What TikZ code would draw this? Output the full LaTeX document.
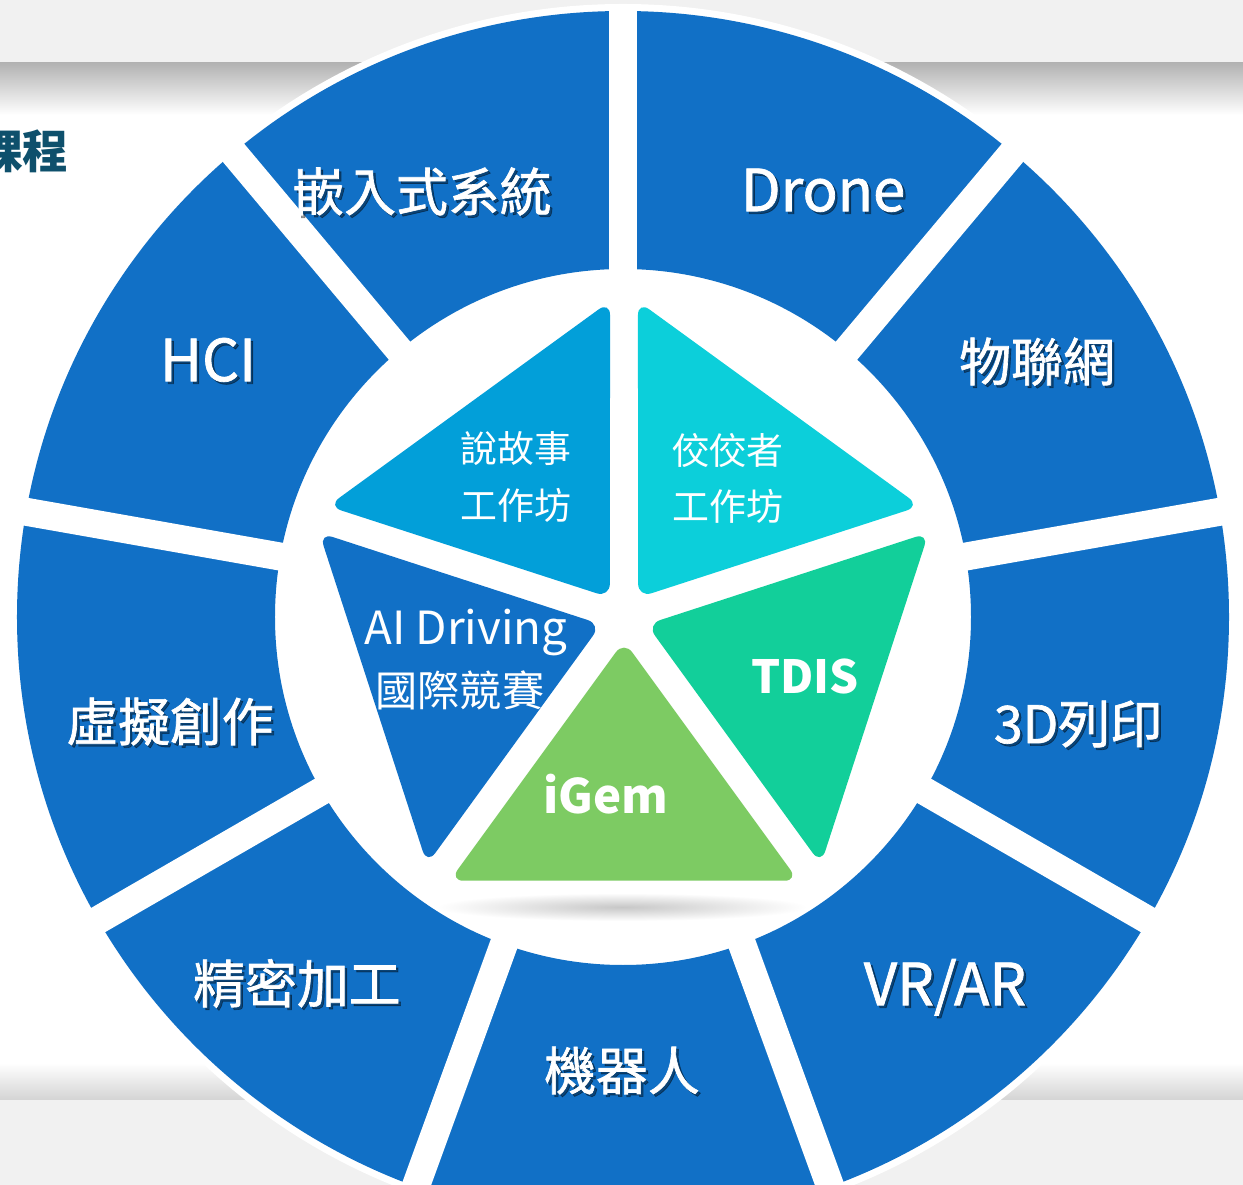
\documentclass[tikz,border=0pt]{standalone}
\usepackage{fontspec}
\setmainfont{Noto Sans CJK TC}
\newfontfamily\segfont[FakeBold=1.3]{Noto Sans CJK TC}
\usetikzlibrary{calc}

\definecolor{ringblue}{RGB}{17,112,198}
\definecolor{tellblue}{RGB}{2,159,217}
\definecolor{makercyan}{RGB}{12,207,218}
\definecolor{tdisgreen}{RGB}{18,207,154}
\definecolor{igemgreen}{RGB}{125,203,99}
\definecolor{courseteal}{RGB}{14,80,108}
\definecolor{bandgray}{RGB}{241,241,241}

% label with a soft drop shadow: options, name, position, text
\newcommand{\shadowlabel}[4]{%
  \node[seglabel,#1,text=black,opacity=0.4] (#2-shadow) at ($#3+(2.5,-2.5)$) {#4};
  \node[seglabel,#1] (#2) at #3 {#4};
}

\begin{document}
\begin{tikzpicture}[x=0.02cm, y=0.02cm,
  seglabel/.style={text=white, inner sep=0pt, text height=0.75em, text depth=0.05em,
    font=\fontsize{29.5}{32}\segfont},
  latinlabel/.style={font=\fontsize{33}{36}\segfont},
  innerlabel/.style={text=white, inner sep=0pt, text height=0.75em, text depth=0.05em,
    font=\fontsize{21}{24}\selectfont},
  gapline/.style={white, line width=0.56cm},
  petal/.style={rounded corners=8pt}]
\useasboundingbox (-623,-568) rectangle (620,617);
% background bands
\fill[white] (-623,-568) rectangle (620,617);
\fill[bandgray] (-623,554) rectangle (620,617);
\shade[top color=black!30, bottom color=white] (-623,502) rectangle (620,554);
\shade[top color=white, bottom color=black!17] (-623,-483) rectangle (620,-446);
\fill[bandgray] (-623,-568) rectangle (620,-483);
\node[text=courseteal, inner sep=0pt, font=\fontsize{26}{30}\selectfont\bfseries] (course) at (-600,466) {課程};
% outer ring
\fill[white] (0,0) circle (613);
\fill[ringblue, even odd rule] (0,0) circle (606) (0,0) circle (348);
\draw[gapline] (10:335) -- (10:613);
\draw[gapline] (50:335) -- (50:613);
\draw[gapline] (90:335) -- (90:613);
\draw[gapline] (130:335) -- (130:613);
\draw[gapline] (170:335) -- (170:613);
\draw[gapline] (210:335) -- (210:613);
\draw[gapline] (250:335) -- (250:613);
\draw[gapline] (290:335) -- (290:613);
\draw[gapline] (330:335) -- (330:613);
% shadow under the pentagon
\shade[inner color=black!22, outer color=white] (-1,-290) ellipse (185 and 14);
% inner pentagon
\coordinate (pc) at (1,0);
\coordinate (p0) at ($(pc)+(90:326)$);
\coordinate (p1) at ($(pc)+(162:326)$);
\coordinate (p2) at ($(pc)+(234:326)$);
\coordinate (p3) at ($(pc)+(306:326)$);
\coordinate (p4) at ($(pc)+(18:326)$);
\fill[tellblue, petal] ($(pc)+(126:24)$) -- ($(p0)!0.045!(p1)$) -- ($(p1)!0.045!(p0)$) -- cycle;
\fill[ringblue, petal] ($(pc)+(198:24)$) -- ($(p1)!0.045!(p2)$) -- ($(p2)!0.045!(p1)$) -- cycle;
\fill[igemgreen, petal] ($(pc)+(270:24)$) -- ($(p2)!0.045!(p3)$) -- ($(p3)!0.045!(p2)$) -- cycle;
\fill[tdisgreen, petal] ($(pc)+(342:24)$) -- ($(p3)!0.045!(p4)$) -- ($(p4)!0.045!(p3)$) -- cycle;
\fill[makercyan, petal] ($(pc)+(54:24)$) -- ($(p4)!0.045!(p0)$) -- ($(p0)!0.045!(p4)$) -- cycle;
% outer labels
\shadowlabel{}{embedded}{(-201,412)}{嵌入式系統}
\shadowlabel{latinlabel}{drone}{(200,412)}{Drone}
\shadowlabel{}{iot}{(414,242)}{物聯網}
\shadowlabel{latinlabel}{hci}{(-415,242)}{HCI}
\shadowlabel{}{print}{(455,-120)}{3D列印}
\shadowlabel{}{virtual}{(-453,-118)}{虛擬創作}
\shadowlabel{}{precision}{(-326,-380)}{精密加工}
\shadowlabel{latinlabel}{vrar}{(322,-382)}{VR/AR}
\shadowlabel{}{robot}{(-1,-467)}{機器人}
% inner labels
\node[innerlabel] (tell1) at (-107,161) {說故事};
\node[innerlabel] (tell2) at (-107,104) {工作坊};
\node[innerlabel] (maker1) at (105,159) {佼佼者};
\node[innerlabel] (maker2) at (105,103) {工作坊};
\node[innerlabel, font=\fontsize{26}{30}\selectfont] (ai1) at (-157,-21) {AI Driving};
\node[innerlabel, font=\fontsize{24}{28}\selectfont] (ai2) at (-163,-83) {國際競賽};
\node[innerlabel, font=\fontsize{26}{30}\selectfont\bfseries] (tdis) at (182,-70) {TDIS};
\node[innerlabel, font=\fontsize{27}{30}\selectfont\bfseries] (igem) at (-17,-190) {iGem};
\end{tikzpicture}
\end{document}
